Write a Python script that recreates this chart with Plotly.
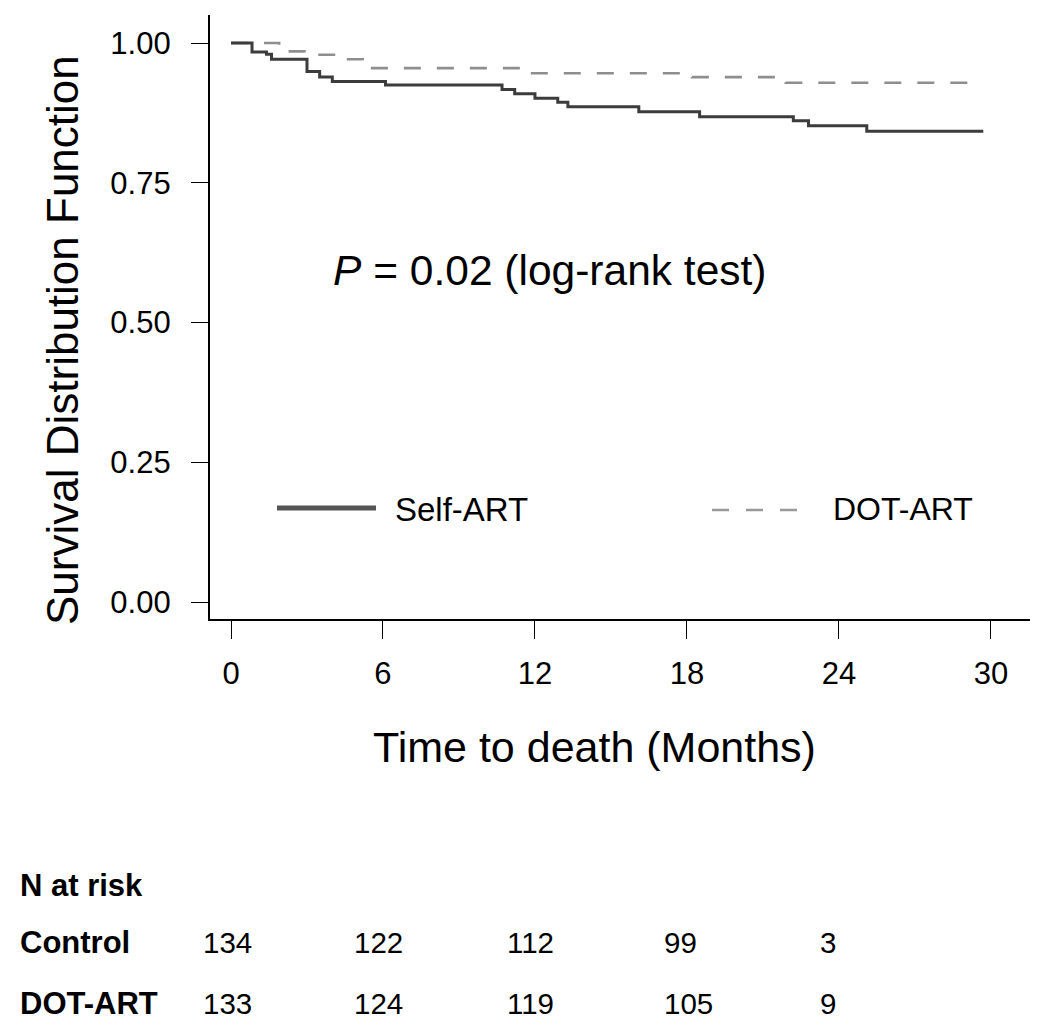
import plotly.graph_objects as go

# ---- data ----
self_t = [0, 0.83, 1.4, 1.6, 3.0, 3.5, 4.0, 6.1, 10.7, 11.2, 12.0, 12.9, 13.3, 16.1, 18.5, 22.2, 22.8, 25.1, 29.7]
self_s = [1.0, 0.984, 0.980, 0.971, 0.949, 0.939, 0.931, 0.925, 0.917, 0.909, 0.901, 0.894, 0.886, 0.877, 0.868, 0.861, 0.852, 0.842, 0.842]
dot_t = [0, 1.9, 2.9, 4.2, 5.2, 11.6, 18.2, 21.9, 29.5]
dot_s = [1.0, 0.985, 0.979, 0.971, 0.955, 0.946, 0.939, 0.929, 0.929]

x_ticks = [0, 6, 12, 18, 24, 30]
y_ticks = [0, 0.25, 0.5, 0.75, 1.0]
y_ticktext = ["0.00", "0.25", "0.50", "0.75", "1.00"]

risk_rows = ["Control", "DOT-ART"]
risk_control = [134, 122, 112, 99, 3]
risk_dot = [133, 124, 119, 105, 9]

FONT = "Liberation Sans, Arial, sans-serif"
OFF = 8  # default page body margin
W, H = 1050 - OFF, 1036 - OFF
L, T = 210 - OFF, 15 - OFF
PW, PH = 820, 604
R, B = W - L - PW, H - T - PH


def px(x):
    return (x - OFF - L) / PW


def py(y):
    return (T + PH - (y - OFF)) / PH


fig = go.Figure()
fig.add_trace(go.Scatter(x=dot_t, y=dot_s, mode="lines", line_shape="hv",
                         line=dict(color="#8e8e8e", width=2.6, dash="17px,16px"),
                         name="DOT-ART", showlegend=False))
fig.add_trace(go.Scatter(x=self_t, y=self_s, mode="lines", line_shape="hv",
                         line=dict(color="#3c3c3c", width=3),
                         name="Self-ART", showlegend=False))

ann = []
ann.append(dict(text="Survival Distribution Function", x=px(62), y=py(340), textangle=-90,
                font=dict(size=44, color="black", family=FONT), xanchor="center", yanchor="middle"))
ann.append(dict(text="Time to death (Months)", x=px(594), y=py(747),
                font=dict(size=43, color="black", family=FONT), xanchor="center", yanchor="middle"))
ann.append(dict(text="<i>P</i> = 0.02 (log-rank test)", x=px(331), y=py(270),
                font=dict(size=42.5, color="black", family=FONT), xanchor="left", yanchor="middle"))
ann.append(dict(text="Self-ART", x=px(393), y=py(509),
                font=dict(size=33, color="black", family=FONT), xanchor="left", yanchor="middle"))
ann.append(dict(text="DOT-ART", x=px(831), y=py(509),
                font=dict(size=32, color="black", family=FONT), xanchor="left", yanchor="middle"))

ann.append(dict(text="<b>N at risk</b>", x=px(18), y=py(885),
                font=dict(size=31, color="black", family=FONT), xanchor="left", yanchor="middle"))
row_y = [943, 1003]
col_x = [201, 352, 505, 662, 818]
for name, vals, ry in zip(risk_rows, [risk_control, risk_dot], row_y):
    ann.append(dict(text="<b>%s</b>" % name, x=px(18), y=py(ry),
                    font=dict(size=31, color="black", family=FONT), xanchor="left", yanchor="middle"))
    for v, cx in zip(vals, col_x):
        ann.append(dict(text=str(v), x=px(cx), y=py(ry),
                        font=dict(size=29.5, color="black", family=FONT), xanchor="left", yanchor="middle"))

for a in ann:
    a.update(xref="paper", yref="paper", showarrow=False)

shapes = [
    dict(type="line", xref="paper", yref="paper", x0=px(277), x1=px(376), y0=py(508), y1=py(508),
         line=dict(color="#555555", width=5)),
    dict(type="line", xref="paper", yref="paper", x0=px(712), x1=px(798), y0=py(510), y1=py(510),
         line=dict(color="#999999", width=2.6, dash="17px,17px")),
]

x0 = (210 - 231) / 25.33
x1 = (210 + PW - 231) / 25.33
y0 = -(619 - 602) / 559
y1 = 1 + (43 - 15) / 559

fig.update_layout(
    width=W, height=H,
    margin=dict(l=L, r=R, t=T, b=B),
    paper_bgcolor="white", plot_bgcolor="white",
    font=dict(family=FONT, color="black"),
    annotations=ann, shapes=shapes,
    xaxis=dict(range=[x0, x1], tickvals=x_ticks, showgrid=False, zeroline=False,
               showline=True, linecolor="black", linewidth=2.2, ticks="outside",
               ticklen=18, tickwidth=1.3, tickcolor="black", ticklabelstandoff=8,
               tickfont=dict(size=31, family=FONT, color="black")),
    yaxis=dict(range=[y0, y1], tickvals=y_ticks, ticktext=y_ticktext, showgrid=False, zeroline=False,
               showline=True, linecolor="black", linewidth=2.2, ticks="outside",
               ticklen=17, tickwidth=1.3, tickcolor="black", ticklabelstandoff=14,
               tickfont=dict(size=31, family=FONT, color="black")),
)

fig.write_html("out.html")
